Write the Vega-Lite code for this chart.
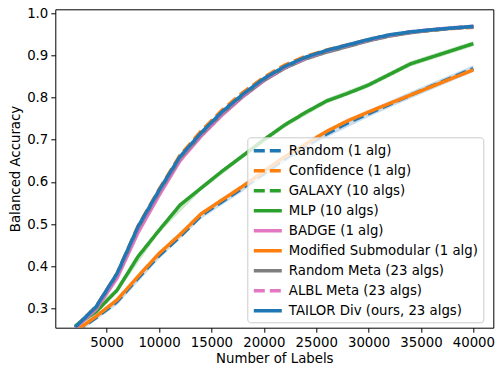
{
  "$schema": "https://vega.github.io/schema/vega-lite/v6.json",
  "width": 438,
  "height": 318.4,
  "autosize": {"type": "none"},
  "padding": {"left": 55.3, "top": 9.3, "right": 1.7, "bottom": 45.3},
  "background": "white",
  "config": {
    "font": "DejaVu Sans",
    "view": {"stroke": "black", "strokeWidth": 1},
    "axis": {"grid": false, "domain": false, "tickColor": "black", "tickSize": 4.5, "tickWidth": 1, "labelFont": "DejaVu Sans", "labelFontSize": 13.3, "labelColor": "black", "titleFont": "DejaVu Sans", "titleFontSize": 13.3, "titleFontWeight": "normal", "titleColor": "black"}
  },
  "datasets": {
    "curves": [
      {"series": "Random (1 alg)", "x": 2000, "acc": 0.243}, {"series": "Random (1 alg)", "x": 4000, "acc": 0.278}, {"series": "Random (1 alg)", "x": 6000, "acc": 0.316}, {"series": "Random (1 alg)", "x": 8000, "acc": 0.372}, {"series": "Random (1 alg)", "x": 10000, "acc": 0.425}, {"series": "Random (1 alg)", "x": 12000, "acc": 0.47}, {"series": "Random (1 alg)", "x": 14000, "acc": 0.52}, {"series": "Random (1 alg)", "x": 16000, "acc": 0.553}, {"series": "Random (1 alg)", "x": 18000, "acc": 0.586}, {"series": "Random (1 alg)", "x": 20000, "acc": 0.62}, {"series": "Random (1 alg)", "x": 22000, "acc": 0.655}, {"series": "Random (1 alg)", "x": 24000, "acc": 0.685}, {"series": "Random (1 alg)", "x": 26000, "acc": 0.714}, {"series": "Random (1 alg)", "x": 28000, "acc": 0.74}, {"series": "Random (1 alg)", "x": 30000, "acc": 0.762}, {"series": "Random (1 alg)", "x": 32000, "acc": 0.784}, {"series": "Random (1 alg)", "x": 34000, "acc": 0.806}, {"series": "Random (1 alg)", "x": 36000, "acc": 0.827}, {"series": "Random (1 alg)", "x": 38000, "acc": 0.848}, {"series": "Random (1 alg)", "x": 40000, "acc": 0.869},
      {"series": "Confidence (1 alg)", "x": 2000, "acc": 0.255}, {"series": "Confidence (1 alg)", "x": 4000, "acc": 0.304}, {"series": "Confidence (1 alg)", "x": 6000, "acc": 0.383}, {"series": "Confidence (1 alg)", "x": 8000, "acc": 0.495}, {"series": "Confidence (1 alg)", "x": 10000, "acc": 0.582}, {"series": "Confidence (1 alg)", "x": 12000, "acc": 0.663}, {"series": "Confidence (1 alg)", "x": 14000, "acc": 0.72}, {"series": "Confidence (1 alg)", "x": 16000, "acc": 0.77}, {"series": "Confidence (1 alg)", "x": 18000, "acc": 0.812}, {"series": "Confidence (1 alg)", "x": 20000, "acc": 0.848}, {"series": "Confidence (1 alg)", "x": 22000, "acc": 0.877}, {"series": "Confidence (1 alg)", "x": 24000, "acc": 0.898}, {"series": "Confidence (1 alg)", "x": 26000, "acc": 0.913}, {"series": "Confidence (1 alg)", "x": 28000, "acc": 0.925}, {"series": "Confidence (1 alg)", "x": 30000, "acc": 0.938}, {"series": "Confidence (1 alg)", "x": 32000, "acc": 0.948}, {"series": "Confidence (1 alg)", "x": 34000, "acc": 0.955}, {"series": "Confidence (1 alg)", "x": 36000, "acc": 0.96}, {"series": "Confidence (1 alg)", "x": 38000, "acc": 0.964}, {"series": "Confidence (1 alg)", "x": 40000, "acc": 0.967},
      {"series": "GALAXY (10 algs)", "x": 2000, "acc": 0.255}, {"series": "GALAXY (10 algs)", "x": 4000, "acc": 0.303}, {"series": "GALAXY (10 algs)", "x": 6000, "acc": 0.381}, {"series": "GALAXY (10 algs)", "x": 8000, "acc": 0.492}, {"series": "GALAXY (10 algs)", "x": 10000, "acc": 0.578}, {"series": "GALAXY (10 algs)", "x": 12000, "acc": 0.658}, {"series": "GALAXY (10 algs)", "x": 14000, "acc": 0.714}, {"series": "GALAXY (10 algs)", "x": 16000, "acc": 0.764}, {"series": "GALAXY (10 algs)", "x": 18000, "acc": 0.806}, {"series": "GALAXY (10 algs)", "x": 20000, "acc": 0.843}, {"series": "GALAXY (10 algs)", "x": 22000, "acc": 0.872}, {"series": "GALAXY (10 algs)", "x": 24000, "acc": 0.894}, {"series": "GALAXY (10 algs)", "x": 26000, "acc": 0.91}, {"series": "GALAXY (10 algs)", "x": 28000, "acc": 0.923}, {"series": "GALAXY (10 algs)", "x": 30000, "acc": 0.936}, {"series": "GALAXY (10 algs)", "x": 32000, "acc": 0.947}, {"series": "GALAXY (10 algs)", "x": 34000, "acc": 0.955}, {"series": "GALAXY (10 algs)", "x": 36000, "acc": 0.96}, {"series": "GALAXY (10 algs)", "x": 38000, "acc": 0.965}, {"series": "GALAXY (10 algs)", "x": 40000, "acc": 0.968},
      {"series": "MLP (10 algs)", "x": 2000, "acc": 0.258}, {"series": "MLP (10 algs)", "x": 4000, "acc": 0.292}, {"series": "MLP (10 algs)", "x": 6000, "acc": 0.343}, {"series": "MLP (10 algs)", "x": 8000, "acc": 0.423}, {"series": "MLP (10 algs)", "x": 10000, "acc": 0.485}, {"series": "MLP (10 algs)", "x": 12000, "acc": 0.545}, {"series": "MLP (10 algs)", "x": 14000, "acc": 0.585}, {"series": "MLP (10 algs)", "x": 16000, "acc": 0.625}, {"series": "MLP (10 algs)", "x": 18000, "acc": 0.662}, {"series": "MLP (10 algs)", "x": 20000, "acc": 0.7}, {"series": "MLP (10 algs)", "x": 22000, "acc": 0.735}, {"series": "MLP (10 algs)", "x": 24000, "acc": 0.765}, {"series": "MLP (10 algs)", "x": 26000, "acc": 0.792}, {"series": "MLP (10 algs)", "x": 28000, "acc": 0.81}, {"series": "MLP (10 algs)", "x": 30000, "acc": 0.83}, {"series": "MLP (10 algs)", "x": 32000, "acc": 0.855}, {"series": "MLP (10 algs)", "x": 34000, "acc": 0.88}, {"series": "MLP (10 algs)", "x": 36000, "acc": 0.896}, {"series": "MLP (10 algs)", "x": 38000, "acc": 0.912}, {"series": "MLP (10 algs)", "x": 40000, "acc": 0.928},
      {"series": "BADGE (1 alg)", "x": 2000, "acc": 0.253}, {"series": "BADGE (1 alg)", "x": 4000, "acc": 0.298}, {"series": "BADGE (1 alg)", "x": 6000, "acc": 0.372}, {"series": "BADGE (1 alg)", "x": 8000, "acc": 0.48}, {"series": "BADGE (1 alg)", "x": 10000, "acc": 0.568}, {"series": "BADGE (1 alg)", "x": 12000, "acc": 0.65}, {"series": "BADGE (1 alg)", "x": 14000, "acc": 0.708}, {"series": "BADGE (1 alg)", "x": 16000, "acc": 0.758}, {"series": "BADGE (1 alg)", "x": 18000, "acc": 0.802}, {"series": "BADGE (1 alg)", "x": 20000, "acc": 0.84}, {"series": "BADGE (1 alg)", "x": 22000, "acc": 0.871}, {"series": "BADGE (1 alg)", "x": 24000, "acc": 0.893}, {"series": "BADGE (1 alg)", "x": 26000, "acc": 0.91}, {"series": "BADGE (1 alg)", "x": 28000, "acc": 0.923}, {"series": "BADGE (1 alg)", "x": 30000, "acc": 0.936}, {"series": "BADGE (1 alg)", "x": 32000, "acc": 0.947}, {"series": "BADGE (1 alg)", "x": 34000, "acc": 0.955}, {"series": "BADGE (1 alg)", "x": 36000, "acc": 0.961}, {"series": "BADGE (1 alg)", "x": 38000, "acc": 0.965}, {"series": "BADGE (1 alg)", "x": 40000, "acc": 0.968},
      {"series": "Modified Submodular (1 alg)", "x": 2000, "acc": 0.245}, {"series": "Modified Submodular (1 alg)", "x": 4000, "acc": 0.281}, {"series": "Modified Submodular (1 alg)", "x": 6000, "acc": 0.32}, {"series": "Modified Submodular (1 alg)", "x": 8000, "acc": 0.376}, {"series": "Modified Submodular (1 alg)", "x": 10000, "acc": 0.43}, {"series": "Modified Submodular (1 alg)", "x": 12000, "acc": 0.475}, {"series": "Modified Submodular (1 alg)", "x": 14000, "acc": 0.524}, {"series": "Modified Submodular (1 alg)", "x": 16000, "acc": 0.557}, {"series": "Modified Submodular (1 alg)", "x": 18000, "acc": 0.59}, {"series": "Modified Submodular (1 alg)", "x": 20000, "acc": 0.625}, {"series": "Modified Submodular (1 alg)", "x": 22000, "acc": 0.66}, {"series": "Modified Submodular (1 alg)", "x": 24000, "acc": 0.69}, {"series": "Modified Submodular (1 alg)", "x": 26000, "acc": 0.72}, {"series": "Modified Submodular (1 alg)", "x": 28000, "acc": 0.745}, {"series": "Modified Submodular (1 alg)", "x": 30000, "acc": 0.766}, {"series": "Modified Submodular (1 alg)", "x": 32000, "acc": 0.786}, {"series": "Modified Submodular (1 alg)", "x": 34000, "acc": 0.806}, {"series": "Modified Submodular (1 alg)", "x": 36000, "acc": 0.826}, {"series": "Modified Submodular (1 alg)", "x": 38000, "acc": 0.846}, {"series": "Modified Submodular (1 alg)", "x": 40000, "acc": 0.866},
      {"series": "Random Meta (23 algs)", "x": 2000, "acc": 0.254}, {"series": "Random Meta (23 algs)", "x": 4000, "acc": 0.302}, {"series": "Random Meta (23 algs)", "x": 6000, "acc": 0.38}, {"series": "Random Meta (23 algs)", "x": 8000, "acc": 0.49}, {"series": "Random Meta (23 algs)", "x": 10000, "acc": 0.576}, {"series": "Random Meta (23 algs)", "x": 12000, "acc": 0.656}, {"series": "Random Meta (23 algs)", "x": 14000, "acc": 0.712}, {"series": "Random Meta (23 algs)", "x": 16000, "acc": 0.762}, {"series": "Random Meta (23 algs)", "x": 18000, "acc": 0.804}, {"series": "Random Meta (23 algs)", "x": 20000, "acc": 0.841}, {"series": "Random Meta (23 algs)", "x": 22000, "acc": 0.87}, {"series": "Random Meta (23 algs)", "x": 24000, "acc": 0.892}, {"series": "Random Meta (23 algs)", "x": 26000, "acc": 0.908}, {"series": "Random Meta (23 algs)", "x": 28000, "acc": 0.921}, {"series": "Random Meta (23 algs)", "x": 30000, "acc": 0.935}, {"series": "Random Meta (23 algs)", "x": 32000, "acc": 0.946}, {"series": "Random Meta (23 algs)", "x": 34000, "acc": 0.954}, {"series": "Random Meta (23 algs)", "x": 36000, "acc": 0.96}, {"series": "Random Meta (23 algs)", "x": 38000, "acc": 0.965}, {"series": "Random Meta (23 algs)", "x": 40000, "acc": 0.968},
      {"series": "ALBL Meta (23 algs)", "x": 2000, "acc": 0.254}, {"series": "ALBL Meta (23 algs)", "x": 4000, "acc": 0.302}, {"series": "ALBL Meta (23 algs)", "x": 6000, "acc": 0.381}, {"series": "ALBL Meta (23 algs)", "x": 8000, "acc": 0.492}, {"series": "ALBL Meta (23 algs)", "x": 10000, "acc": 0.578}, {"series": "ALBL Meta (23 algs)", "x": 12000, "acc": 0.658}, {"series": "ALBL Meta (23 algs)", "x": 14000, "acc": 0.714}, {"series": "ALBL Meta (23 algs)", "x": 16000, "acc": 0.764}, {"series": "ALBL Meta (23 algs)", "x": 18000, "acc": 0.806}, {"series": "ALBL Meta (23 algs)", "x": 20000, "acc": 0.843}, {"series": "ALBL Meta (23 algs)", "x": 22000, "acc": 0.872}, {"series": "ALBL Meta (23 algs)", "x": 24000, "acc": 0.894}, {"series": "ALBL Meta (23 algs)", "x": 26000, "acc": 0.911}, {"series": "ALBL Meta (23 algs)", "x": 28000, "acc": 0.924}, {"series": "ALBL Meta (23 algs)", "x": 30000, "acc": 0.937}, {"series": "ALBL Meta (23 algs)", "x": 32000, "acc": 0.948}, {"series": "ALBL Meta (23 algs)", "x": 34000, "acc": 0.956}, {"series": "ALBL Meta (23 algs)", "x": 36000, "acc": 0.961}, {"series": "ALBL Meta (23 algs)", "x": 38000, "acc": 0.966}, {"series": "ALBL Meta (23 algs)", "x": 40000, "acc": 0.969},
      {"series": "TAILOR Div (ours, 23 algs)", "x": 2000, "acc": 0.255}, {"series": "TAILOR Div (ours, 23 algs)", "x": 4000, "acc": 0.304}, {"series": "TAILOR Div (ours, 23 algs)", "x": 6000, "acc": 0.383}, {"series": "TAILOR Div (ours, 23 algs)", "x": 8000, "acc": 0.494}, {"series": "TAILOR Div (ours, 23 algs)", "x": 10000, "acc": 0.58}, {"series": "TAILOR Div (ours, 23 algs)", "x": 12000, "acc": 0.66}, {"series": "TAILOR Div (ours, 23 algs)", "x": 14000, "acc": 0.716}, {"series": "TAILOR Div (ours, 23 algs)", "x": 16000, "acc": 0.766}, {"series": "TAILOR Div (ours, 23 algs)", "x": 18000, "acc": 0.808}, {"series": "TAILOR Div (ours, 23 algs)", "x": 20000, "acc": 0.845}, {"series": "TAILOR Div (ours, 23 algs)", "x": 22000, "acc": 0.874}, {"series": "TAILOR Div (ours, 23 algs)", "x": 24000, "acc": 0.896}, {"series": "TAILOR Div (ours, 23 algs)", "x": 26000, "acc": 0.912}, {"series": "TAILOR Div (ours, 23 algs)", "x": 28000, "acc": 0.925}, {"series": "TAILOR Div (ours, 23 algs)", "x": 30000, "acc": 0.938}, {"series": "TAILOR Div (ours, 23 algs)", "x": 32000, "acc": 0.949}, {"series": "TAILOR Div (ours, 23 algs)", "x": 34000, "acc": 0.956}, {"series": "TAILOR Div (ours, 23 algs)", "x": 36000, "acc": 0.961}, {"series": "TAILOR Div (ours, 23 algs)", "x": 38000, "acc": 0.965}, {"series": "TAILOR Div (ours, 23 algs)", "x": 40000, "acc": 0.969}
    ],
    "bands": [
      {"series": "Random (1 alg)", "x": 2000, "lo": 0.236, "hi": 0.25}, {"series": "Random (1 alg)", "x": 6000, "lo": 0.308, "hi": 0.324}, {"series": "Random (1 alg)", "x": 10000, "lo": 0.417, "hi": 0.433}, {"series": "Random (1 alg)", "x": 14000, "lo": 0.512, "hi": 0.528}, {"series": "Random (1 alg)", "x": 18000, "lo": 0.578, "hi": 0.594}, {"series": "Random (1 alg)", "x": 22000, "lo": 0.647, "hi": 0.663}, {"series": "Random (1 alg)", "x": 26000, "lo": 0.706, "hi": 0.722}, {"series": "Random (1 alg)", "x": 30000, "lo": 0.754, "hi": 0.77}, {"series": "Random (1 alg)", "x": 34000, "lo": 0.798, "hi": 0.814}, {"series": "Random (1 alg)", "x": 40000, "lo": 0.861, "hi": 0.877},
      {"series": "MLP (10 algs)", "x": 2000, "lo": 0.252, "hi": 0.264}, {"series": "MLP (10 algs)", "x": 6000, "lo": 0.337, "hi": 0.349}, {"series": "MLP (10 algs)", "x": 10000, "lo": 0.479, "hi": 0.491}, {"series": "MLP (10 algs)", "x": 14000, "lo": 0.579, "hi": 0.591}, {"series": "MLP (10 algs)", "x": 18000, "lo": 0.656, "hi": 0.668}, {"series": "MLP (10 algs)", "x": 22000, "lo": 0.729, "hi": 0.741}, {"series": "MLP (10 algs)", "x": 26000, "lo": 0.786, "hi": 0.798}, {"series": "MLP (10 algs)", "x": 30000, "lo": 0.824, "hi": 0.836}, {"series": "MLP (10 algs)", "x": 34000, "lo": 0.874, "hi": 0.886}, {"series": "MLP (10 algs)", "x": 40000, "lo": 0.922, "hi": 0.934}
    ]
  },
  "layer": [
    {
      "data": {"name": "bands"},
      "transform": [{"filter": "datum.series === 'Random (1 alg)'"}],
      "mark": {"type": "area", "opacity": 0.25, "clip": true, "color": "#1f77b4"},
      "encoding": {
        "x": {"field": "x", "type": "quantitative"},
        "y": {"field": "lo", "type": "quantitative"},
        "y2": {"field": "hi"}
      }
    },
    {
      "data": {"name": "bands"},
      "transform": [{"filter": "datum.series === 'MLP (10 algs)'"}],
      "mark": {"type": "area", "opacity": 0.25, "clip": true, "color": "#2ca02c"},
      "encoding": {
        "x": {"field": "x", "type": "quantitative"},
        "y": {"field": "lo", "type": "quantitative"},
        "y2": {"field": "hi"}
      }
    },
    {
      "data": {"name": "curves"},
      "mark": {"type": "line", "strokeWidth": 3.5, "clip": true, "strokeCap": "butt"},
      "encoding": {
        "x": {"field": "x", "type": "quantitative", "title": "Number of Labels",
          "scale": {"domain": [100, 41900], "nice": false, "zero": false},
          "axis": {"values": [5000, 10000, 15000, 20000, 25000, 30000, 35000, 40000], "format": "d", "labelPadding": 3, "titlePadding": 3}},
        "y": {"field": "acc", "type": "quantitative", "title": "Balanced Accuracy",
          "scale": {"domain": [0.254, 1.0095], "nice": false, "zero": false},
          "axis": {"values": [0.3, 0.4, 0.5, 0.6, 0.7, 0.8, 0.9, 1.0], "format": ".1f", "labelPadding": 3, "titlePadding": 4}},
        "color": {"field": "series", "type": "nominal", "title": null,
          "scale": {
            "domain": ["Random (1 alg)", "Confidence (1 alg)", "GALAXY (10 algs)", "MLP (10 algs)", "BADGE (1 alg)", "Modified Submodular (1 alg)", "Random Meta (23 algs)", "ALBL Meta (23 algs)", "TAILOR Div (ours, 23 algs)"],
            "range": ["#1f77b4", "#ff7f0e", "#2ca02c", "#2ca02c", "#e377c2", "#ff7f0e", "#7f7f7f", "#e377c2", "#1f77b4"]},
          "legend": {"orient": "none", "legendX": 192, "legendY": 128, "symbolType": "M-1,0H3", "symbolSize": 196, "symbolStrokeWidth": 3.5, "labelFont": "DejaVu Sans", "labelFontSize": 13.3, "labelColor": "black", "labelLimit": 300, "labelOffset": 19, "rowPadding": 4, "padding": 4.5, "fillColor": "rgba(255,255,255,0.8)", "strokeColor": "#cccccc", "cornerRadius": 3}},
        "strokeDash": {"field": "series", "type": "nominal", "title": null,
          "scale": {
            "domain": ["Random (1 alg)", "Confidence (1 alg)", "GALAXY (10 algs)", "MLP (10 algs)", "BADGE (1 alg)", "Modified Submodular (1 alg)", "Random Meta (23 algs)", "ALBL Meta (23 algs)", "TAILOR Div (ours, 23 algs)"],
            "range": [[11, 5], [11, 5], [11, 5], [1, 0], [1, 0], [1, 0], [1, 0], [11, 5], [1, 0]]}}
      }
    }
  ]
}
